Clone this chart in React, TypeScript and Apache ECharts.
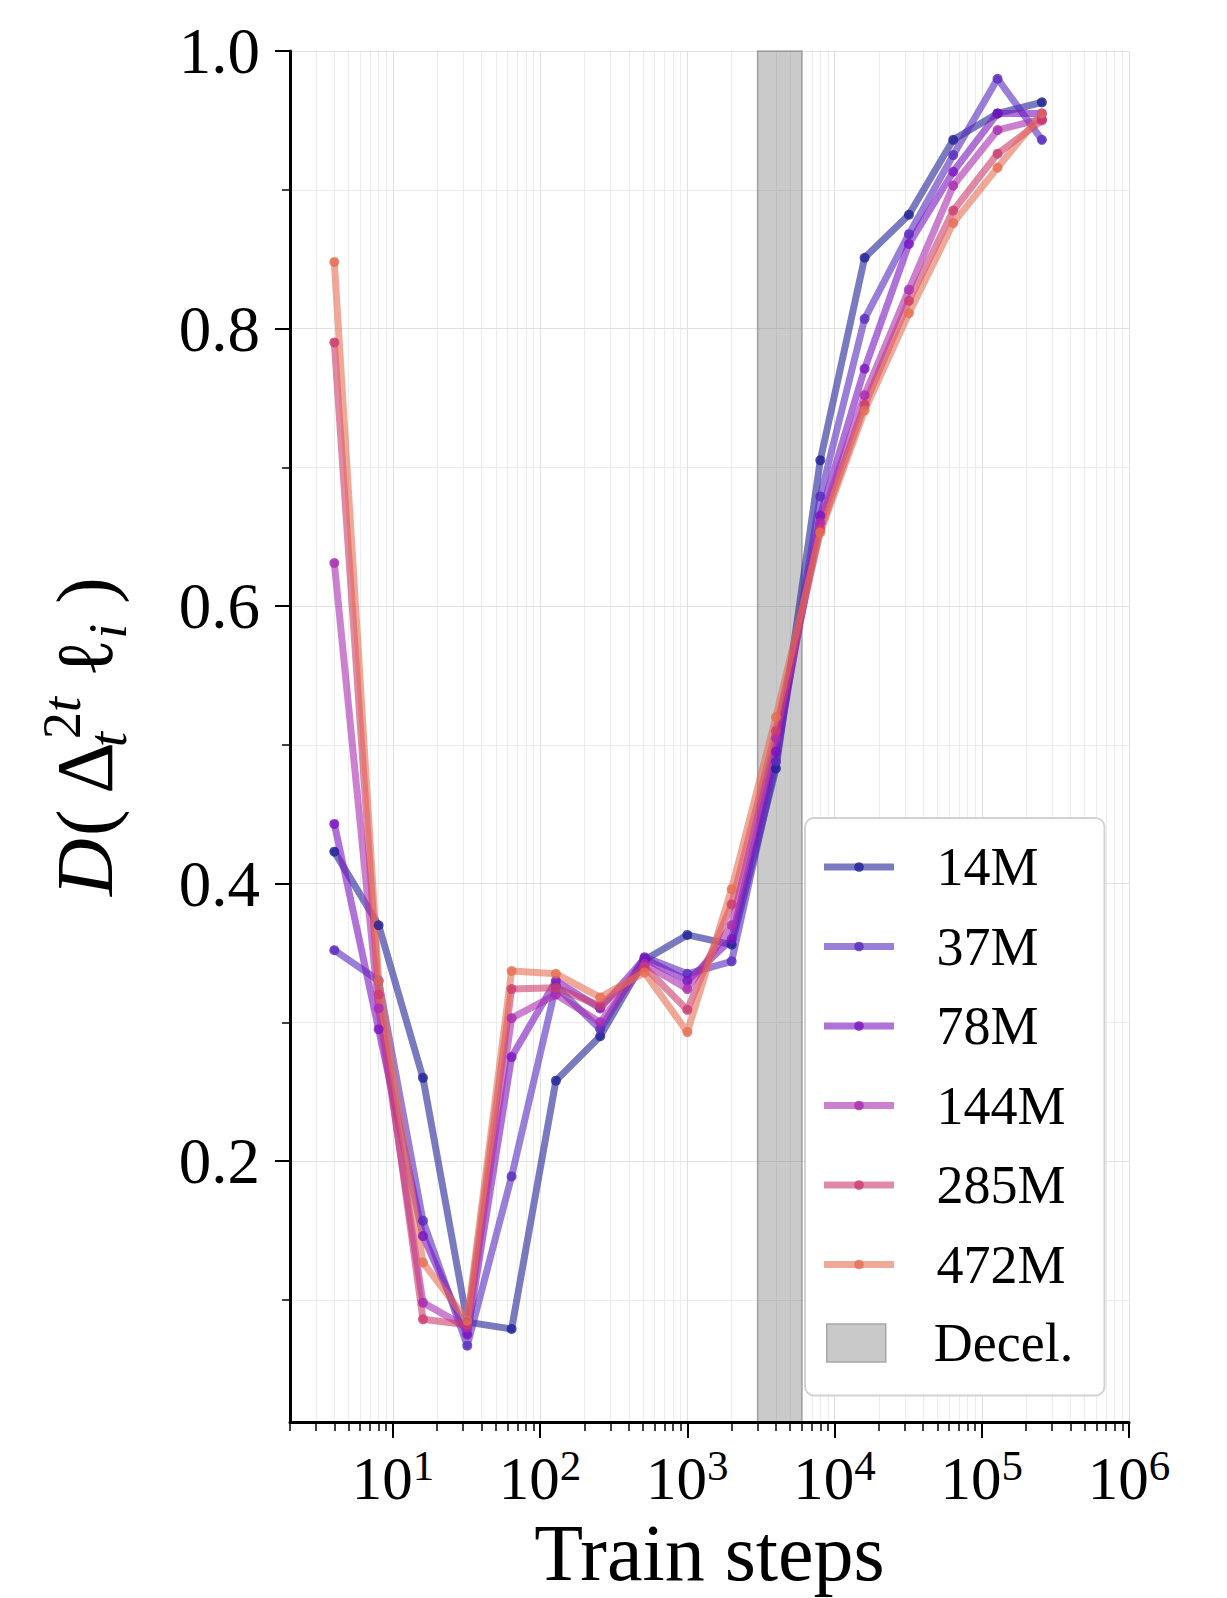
import React, { useEffect, useRef } from 'react';
import * as echarts from 'echarts';

// ---------------- data ----------------
const steps = [4, 8, 16, 32, 64, 128, 256, 512, 1000, 2000, 4000, 8000, 16000, 32000, 64000, 128000, 256000];

const modelNames = ['14M', '37M', '78M', '144M', '285M', '472M'];
const modelColors = ['#212196', '#572abe', '#7a14c0', '#aa2bb1', '#cb3c6e', '#e66e53'];

const d14M = [0.423, 0.370, 0.260, 0.084, 0.079, 0.258, 0.290, 0.345, 0.363, 0.356, 0.483, 0.705, 0.851, 0.882, 0.936, 0.955, 0.963];
const d37M = [0.352, 0.330, 0.157, 0.067, 0.189, 0.326, 0.295, 0.347, 0.335, 0.344, 0.488, 0.679, 0.807, 0.868, 0.925, 0.980, 0.936];
const d78M = [0.443, 0.295, 0.146, 0.075, 0.275, 0.330, 0.310, 0.346, 0.330, 0.360, 0.495, 0.665, 0.771, 0.861, 0.913, 0.955, 0.955];
const d144M = [0.631, 0.310, 0.098, 0.080, 0.303, 0.320, 0.300, 0.342, 0.324, 0.370, 0.505, 0.660, 0.752, 0.828, 0.903, 0.943, 0.951];
const d285M = [0.790, 0.320, 0.086, 0.082, 0.324, 0.325, 0.312, 0.340, 0.309, 0.385, 0.510, 0.655, 0.745, 0.820, 0.885, 0.926, 0.950];
const d472M = [0.848, 0.330, 0.127, 0.085, 0.337, 0.335, 0.318, 0.336, 0.293, 0.396, 0.520, 0.653, 0.741, 0.811, 0.876, 0.916, 0.955];

const decelStart = 3000;
const decelEnd = 6000;
const decelName = 'Decel.';

const xMin = 2;
const xMax = 1e6;
const yMin = 0.012;
const yMax = 1.0;

const yMajorTicks = [0.2, 0.4, 0.6, 0.8, 1.0];
const yMinorTicks = [0.1, 0.3, 0.5, 0.7, 0.9];
const xDecadeExponents = [1, 2, 3, 4, 5, 6];
const decadeBases = [1, 10, 100, 1000, 10000, 100000];
const minorMultipliers = [2, 3, 4, 5, 6, 7, 8, 9];

const FONT = "'Liberation Serif', 'DejaVu Serif', serif";

export default function App() {
  const ref = useRef<HTMLDivElement>(null);

  useEffect(() => {
    document.body.style.margin = '0';
    if (!ref.current) return;
    const chart = echarts.init(ref.current, undefined, { renderer: 'svg' });

    const seriesValues = [d14M, d37M, d78M, d144M, d285M, d472M];

    const minorGridX: number[] = [];
    decadeBases.forEach((b) => {
      minorMultipliers.forEach((m) => {
        const v = b * m;
        if (v > xMin && v < xMax) minorGridX.push(v);
      });
    });
    const majorGridX = decadeBases.map((b) => b * 10).filter((v) => v > xMin && v <= xMax);
    const xMinorTickPos = minorGridX.concat([xMin]).map((v) => Math.log10(v));

    const minorGrid = { color: '#ececec', width: 1, type: 'solid' };
    const majorGrid = { color: '#e0e0e0', width: 1, type: 'solid' };
    const gridLineData: any[] = [];
    minorGridX.forEach((v) => gridLineData.push({ xAxis: v, lineStyle: minorGrid }));
    majorGridX.forEach((v) => gridLineData.push({ xAxis: v, lineStyle: majorGrid }));
    yMinorTicks.forEach((v) => gridLineData.push({ yAxis: v, lineStyle: minorGrid }));
    yMajorTicks.forEach((v) => gridLineData.push({ yAxis: v, lineStyle: majorGrid }));

    const lineSeries = modelNames.map((name, i) => ({
      name,
      type: 'line',
      xAxisIndex: 0,
      yAxisIndex: 0,
      data: steps.map((s, j) => [s, seriesValues[i][j]]),
      symbol: 'circle',
      symbolSize: 10,
      showSymbol: true,
      silent: true,
      z: 2,
      lineStyle: { color: modelColors[i], width: 7, opacity: 0.6, cap: 'square', join: 'round' },
      itemStyle: { color: modelColors[i], opacity: 0.8 },
      emphasis: { disabled: true },
    }));

    const option: any = {
      animation: false,
      backgroundColor: '#ffffff',
      grid: { left: 290, right: 98, top: 51, bottom: 176, containLabel: false, outerBoundsMode: 'none' },
      xAxis: [
        {
          type: 'log',
          logBase: 10,
          min: xMin,
          max: xMax,
          position: 'bottom',
          z: 3,
          axisLine: { show: true, onZero: false, lineStyle: { color: '#000', width: 3 } },
          axisTick: { show: false },
          axisLabel: { show: false },
          splitLine: { show: false },
          minorTick: { show: false },
          name: 'Train steps',
          nameLocation: 'middle',
          nameGap: 91,
          nameTextStyle: { color: '#000', fontFamily: FONT, fontSize: 80, lineHeight: 80 },
        },
        {
          type: 'value',
          min: Math.log10(xMin),
          max: Math.log10(xMax),
          position: 'bottom',
          z: 3,
          axisLine: { show: false, onZero: false },
          axisTick: { show: true, customValues: xDecadeExponents, length: 16, lineStyle: { color: '#000', width: 2 } },
          axisLabel: {
            show: true,
            customValues: xDecadeExponents,
            margin: 22,
            formatter: (v: number) => `{b|10}{s|${Math.round(v)}}`,
            rich: {
              b: { fontFamily: FONT, fontSize: 61, lineHeight: 68, color: '#000' },
              s: { fontFamily: FONT, fontSize: 43, lineHeight: 20, verticalAlign: 'top', color: '#000' },
            },
          },
          splitLine: { show: false },
        },
        {
          type: 'value',
          min: Math.log10(xMin),
          max: Math.log10(xMax),
          position: 'bottom',
          z: 3,
          axisLine: { show: false, onZero: false },
          axisTick: { show: true, customValues: xMinorTickPos, length: 9, lineStyle: { color: '#000', width: 1.5 } },
          axisLabel: { show: false },
          splitLine: { show: false },
        },
      ],
      yAxis: [
        {
          type: 'value',
          min: yMin,
          max: yMax,
          position: 'left',
          z: 3,
          axisLine: { show: true, onZero: false, lineStyle: { color: '#000', width: 3 } },
          axisTick: { show: true, customValues: yMajorTicks, length: 15, lineStyle: { color: '#000', width: 2 } },
          axisLabel: {
            show: true,
            customValues: yMajorTicks,
            margin: 30,
            formatter: (v: number) => v.toFixed(1),
            fontFamily: FONT,
            fontSize: 65,
            color: '#000',
          },
          splitLine: { show: false },
          name: '{it|D}{n|( Δ}{sub|t}{sup|2}{supi|t}{n| }{n|ℓ}{subi|i}{n| )}',
          nameLocation: 'middle',
          nameRotate: 90,
          nameGap: 155,
          nameTextStyle: {
            color: '#000',
            fontFamily: FONT,
            fontSize: 80,
            rich: {
              it: { fontFamily: FONT, fontStyle: 'italic', fontSize: 80, lineHeight: 100, color: '#000' },
              n: { fontFamily: FONT, fontSize: 80, lineHeight: 100, color: '#000' },
              sup: { fontFamily: FONT, fontSize: 54, lineHeight: 46, verticalAlign: 'top', color: '#000' },
              supi: { fontFamily: FONT, fontStyle: 'italic', fontSize: 54, lineHeight: 46, verticalAlign: 'top', color: '#000' },
              sub: { fontFamily: FONT, fontStyle: 'italic', fontSize: 54, lineHeight: 56, verticalAlign: 'bottom', width: 1, color: '#000' },
              subi: { fontFamily: FONT, fontStyle: 'italic', fontSize: 54, lineHeight: 56, verticalAlign: 'bottom', color: '#000' },
            },
          },
        },
        {
          type: 'value',
          min: yMin,
          max: yMax,
          position: 'left',
          z: 3,
          axisLine: { show: false, onZero: false },
          axisTick: { show: true, customValues: yMinorTicks, length: 8, lineStyle: { color: '#000', width: 1.5 } },
          axisLabel: { show: false },
          splitLine: { show: false },
        },
      ],
      legend: [
        {
          data: modelNames,
          orient: 'vertical',
          left: 805,
          top: 818,
          padding: [22, 39, 104, 19],
          itemGap: 25.5,
          itemWidth: 63,
          itemHeight: 12,
          selectedMode: false,
          backgroundColor: '#ffffff',
          borderColor: '#d2d2d2',
          borderWidth: 2,
          borderRadius: 9,
          lineStyle: { width: 7, opacity: 0.6 },
          itemStyle: { opacity: 0.8 },
          textStyle: { fontFamily: FONT, fontSize: 54, lineHeight: 50, color: '#000', padding: [0, 0, 0, 41] },
        },
        {
          data: [
            {
              name: decelName,
              icon: 'rect',
              itemStyle: { color: '#c9c9c9', borderColor: '#a8a8a8', borderWidth: 1.5, opacity: 1 },
            },
          ],
          orient: 'vertical',
          left: 826,
          top: 1316,
          padding: 0,
          itemWidth: 59,
          itemHeight: 38,
          selectedMode: false,
          textStyle: { fontFamily: FONT, fontSize: 54, lineHeight: 50, color: '#000', padding: [0, 0, 0, 43] },
        },
      ],
      series: [
        {
          name: '_grid',
          type: 'line',
          data: [],
          silent: true,
          markLine: {
            silent: true,
            z: 0,
            symbol: ['none', 'none'],
            label: { show: false },
            lineStyle: { type: 'solid' },
            emphasis: { disabled: true },
            data: gridLineData,
          },
        },
        {
          name: decelName,
          type: 'line',
          data: [],
          silent: true,
          markArea: {
            silent: true,
            z: 1,
            itemStyle: { color: 'rgba(128,128,128,0.42)', borderColor: 'rgba(90,90,90,0.45)', borderWidth: 1.5 },
            label: { show: false },
            data: [[{ xAxis: decelStart }, { xAxis: decelEnd }]],
          },
        },
        ...lineSeries,
      ],
    };

    chart.setOption(option);
    return () => chart.dispose();
  }, []);

  return (
    <div
      ref={ref}
      style={{ position: 'absolute', left: 0, top: 0, width: 1227, height: 1598, background: '#fff' }}
    />
  );
}
